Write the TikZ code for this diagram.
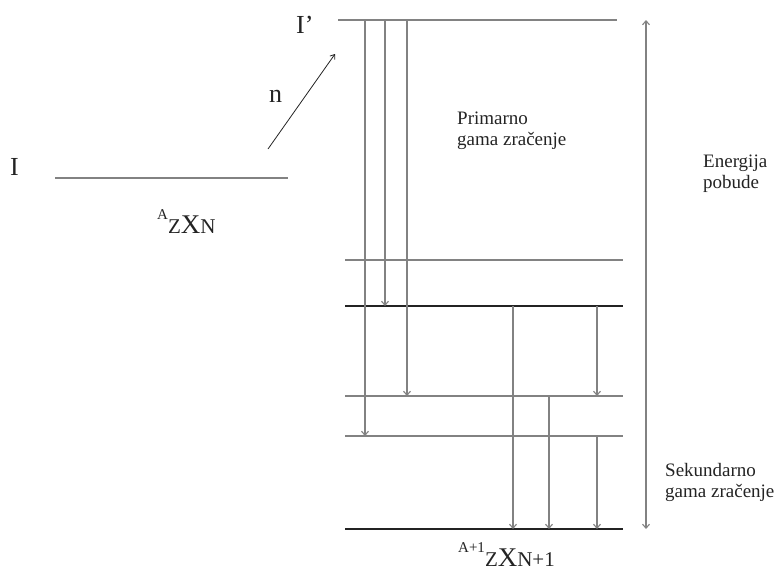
\documentclass[tikz,border=0pt]{standalone}
\usepackage{fontspec}
\setmainfont{Liberation Serif}
\usetikzlibrary{arrows.meta}
\definecolor{cLine}{RGB}{130,130,130}
\definecolor{cDark}{RGB}{35,35,35}
\newcommand{\nucl}[2]{\raisebox{14pt}{\fontsize{15}{15}\selectfont #1}{\fontsize{21}{21}\selectfont Z}{\fontsize{27}{27}\selectfont X}{\fontsize{21}{21}\selectfont #2}}
\tikzset{
  level/.style={draw=cLine, line width=1.2pt},
  levelD/.style={level, draw=cDark},
  gam/.style={draw=cLine, line width=1.1pt, -{Straight Barb[length=4pt,width=7pt]}},
  gamBoth/.style={gam, {Straight Barb[length=4pt,width=7pt]}-{Straight Barb[length=4pt,width=7pt]}},
  nArrow/.style={draw=cDark, line width=0.8pt, -{Straight Barb[length=4pt,width=6pt]}},
  lbl/.style={font=\fontsize{19}{21}\selectfont, align=left, inner sep=0pt,
              anchor=north west, text=cDark},
  big/.style={font=\fontsize{26}{26}\selectfont, inner sep=0pt, anchor=base west, text=cDark},
  nuc/.style={inner sep=0pt, anchor=base west, text=cDark},
}
\begin{document}
\begin{tikzpicture}[x=1pt, y=-1pt]
\useasboundingbox (0,0) rectangle (778,571);

%% ---- ground state of the target ----
\draw[level] (55,178) coordinate (gs) -- (288,178) coordinate (gsE);
\node[big] (lblI) at (10,175) {I};
\node[nuc] (nucA) at (157,233) {\nucl{A}{N}};

%% ---- neutron capture ----
\coordinate (nA) at (268,149);
\coordinate (nB) at (335,54);
\draw[nArrow] (nA) -- (nB);
\node[big] (lbln) at (269,102) {n};

%% ---- levels of the compound nucleus ----
\draw[level] (338,20) coordinate (Ip) -- (617,20) coordinate (IpE);
\node[big] (lblIp) at (296,33) {I’};
\foreach \nm/\yy/\st in {L1/260/level, L2/306/levelD, L3/396/level,
                         L4/436/level, G/529/levelD}
  \draw[\st] (345,\yy) coordinate (\nm) -- (623,\yy);
\node[nuc] (nucB) at (458,566) {\nucl{A+1}{N+1}};

%% ---- primary gamma transitions ----
\foreach \xx/\lo in {365/L4, 385/L2, 407/L3}
  \draw[gam] (\xx,0 |- Ip) -- (\xx,0 |- \lo);
\node[lbl] (prim) at (457,112) {Primarno\\gama zračenje};

%% ---- secondary gamma transitions ----
\foreach \xx/\hi/\lo in {513/L2/G, 597/L2/L3, 549/L3/G, 597/L4/G}
  \draw[gam] (\xx,0 |- \hi) -- (\xx,0 |- \lo);
\node[lbl] (sek) at (665,463) {Sekundarno\\gama zračenje};

%% ---- excitation energy ----
\draw[gamBoth] (646,0 |- Ip) -- (646,0 |- G);
\node[lbl] (epob) at (703,155) {Energija\\pobude};

\end{tikzpicture}
\end{document}
